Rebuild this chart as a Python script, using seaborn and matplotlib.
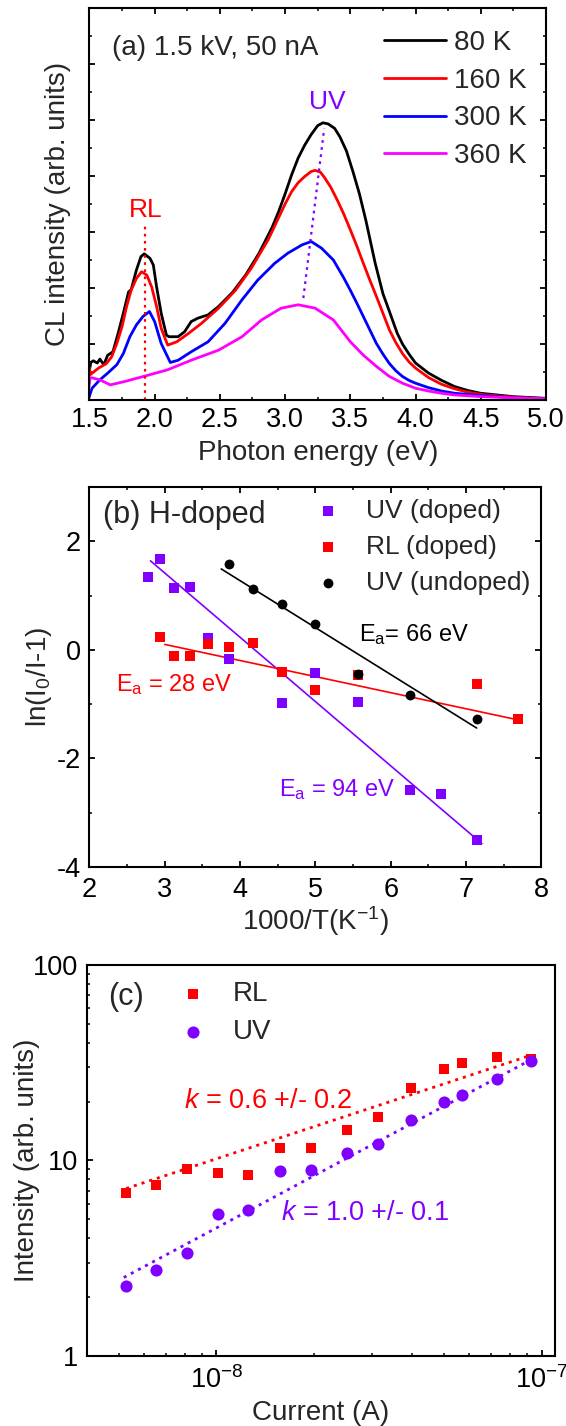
import numpy as np
import pandas as pd
import matplotlib
matplotlib.use("Agg")
import matplotlib.pyplot as plt
import seaborn as sns
from matplotlib.ticker import (MultipleLocator, LogLocator, FixedLocator,
                               NullFormatter, FixedFormatter, LogFormatterSciNotation)

# ---------------- data: panel (a) CL spectra ----------------
e80 = [1.50, 1.51, 1.53, 1.56, 1.58, 1.61, 1.64, 1.68, 1.72, 1.76, 1.80, 1.82, 1.86, 1.895, 1.92,
       1.964, 1.99, 2.015, 2.05, 2.09, 2.11, 2.18, 2.23, 2.28, 2.33, 2.41, 2.49, 2.6, 2.7, 2.8, 2.9,
       2.95, 3.0, 3.05, 3.1, 3.15, 3.2, 3.25, 3.29, 3.33, 3.38, 3.42, 3.47, 3.52, 3.57, 3.62, 3.69,
       3.75, 3.8, 3.86, 3.9, 3.95, 4.0, 4.1, 4.2, 4.3, 4.4, 4.5, 4.75, 5.0]
i80 = [0.52, 0.67, 0.70, 0.66, 0.73, 0.63, 0.80, 0.86, 1.19, 1.55, 1.93, 1.97, 2.32, 2.56, 2.61,
       2.53, 2.41, 2.02, 1.55, 1.16, 1.13, 1.13, 1.22, 1.40, 1.46, 1.52, 1.67, 1.93, 2.24, 2.62, 3.08,
       3.36, 3.68, 4.02, 4.32, 4.55, 4.74, 4.90, 4.95, 4.93, 4.85, 4.70, 4.45, 4.08, 3.68, 3.20, 2.45,
       1.90, 1.58, 1.19, 1.00, 0.82, 0.66, 0.48, 0.35, 0.24, 0.17, 0.12, 0.06, 0.03]
e160 = [1.50, 1.505, 1.57, 1.63, 1.67, 1.71, 1.75, 1.785, 1.82, 1.86, 1.90, 1.94, 1.977, 2.015,
        2.05, 2.10, 2.17, 2.26, 2.36, 2.49, 2.62, 2.74, 2.87, 3.0, 3.05, 3.1, 3.15, 3.2, 3.23,
        3.27, 3.3, 3.35, 3.4, 3.45, 3.5, 3.55, 3.6, 3.65, 3.7, 3.75, 3.8, 3.85, 3.9, 3.95, 4.0,
        4.1, 4.2, 4.3, 4.4, 4.5, 4.75, 5.0]
i160 = [0.58, 0.45, 0.57, 0.65, 0.77, 1.01, 1.31, 1.67, 1.96, 2.17, 2.29, 2.23, 2.02, 1.67,
        1.28, 0.98, 1.04, 1.19, 1.37, 1.64, 1.96, 2.35, 2.86, 3.50, 3.72, 3.88, 3.99, 4.08, 4.10,
        4.07, 3.98, 3.80, 3.57, 3.32, 3.04, 2.75, 2.44, 2.14, 1.85, 1.55, 1.25, 1.02, 0.83, 0.68, 0.57,
        0.40, 0.28, 0.20, 0.14, 0.10, 0.05, 0.02]
e300 = [1.495, 1.52, 1.58, 1.64, 1.71, 1.76, 1.81, 1.86, 1.91, 1.96, 2.0, 2.05, 2.12, 2.18, 2.28,
        2.41, 2.54, 2.67, 2.79, 2.92, 3.02, 3.13, 3.20, 3.28, 3.37, 3.45, 3.5, 3.55, 3.6, 3.65,
        3.7, 3.75, 3.8, 3.85, 3.9, 3.95, 4.0, 4.1, 4.2, 4.3, 4.5, 4.75, 5.0]
i300 = [0.03, 0.21, 0.36, 0.48, 0.63, 0.83, 1.13, 1.34, 1.49, 1.58, 1.40, 1.01, 0.67, 0.71, 0.86,
        1.04, 1.37, 1.79, 2.14, 2.44, 2.62, 2.77, 2.83, 2.71, 2.50, 2.18, 1.96, 1.73, 1.49, 1.25,
        1.01, 0.82, 0.65, 0.52, 0.42, 0.35, 0.30, 0.22, 0.16, 0.12, 0.08, 0.04, 0.02]
e360 = [1.495, 1.505, 1.53, 1.58, 1.66, 1.77, 1.93, 2.10, 2.28, 2.49, 2.67, 2.82, 2.97, 3.10,
        3.23, 3.37, 3.5, 3.6, 3.7, 3.8, 3.9, 4.0, 4.1, 4.2, 4.3, 4.5, 4.75, 5.0]
i360 = [0.20, 0.40, 0.39, 0.36, 0.27, 0.33, 0.43, 0.54, 0.71, 0.89, 1.13, 1.43, 1.64, 1.70,
        1.64, 1.43, 1.04, 0.80, 0.60, 0.42, 0.30, 0.21, 0.16, 0.12, 0.09, 0.06, 0.04, 0.02]
rl_marker_x = [1.926, 1.926]
rl_marker_y = [0.0, 3.12]
uv_marker_x = [3.14, 3.30]
uv_marker_y = [1.82, 4.85]

# ---------------- data: panel (b) Arrhenius ----------------
uvd_x = [2.78, 2.94, 3.125, 3.33, 3.57, 3.85, 4.55, 5.0, 5.56, 6.25, 6.67, 7.14]
uvd_y = [1.34, 1.67, 1.14, 1.15, 0.21, -0.17, -0.98, -0.43, -0.96, -2.58, -2.65, -3.51]
rld_x = [2.94, 3.125, 3.33, 3.57, 3.85, 4.17, 4.55, 5.0, 5.56, 7.14, 7.69]
rld_y = [0.23, -0.12, -0.12, 0.11, 0.06, 0.12, -0.40, -0.74, -0.47, -0.63, -1.28]
uvu_x = [3.85, 4.17, 4.55, 5.0, 5.56, 6.25, 7.14]
uvu_y = [1.58, 1.12, 0.85, 0.48, -0.44, -0.84, -1.28]
fit_uvd_x = [2.81, 7.21]
fit_uvd_y = [1.64, -3.57]
fit_rld_x = [3.0, 7.69]
fit_rld_y = [0.10, -1.29]
fit_uvu_x = [3.75, 7.14]
fit_uvu_y = [1.49, -1.44]

# ---------------- data: panel (c) current dependence ----------------
current = [5.28e-9, 6.50e-9, 8.13e-9, 1.01e-8, 1.25e-8, 1.57e-8, 1.95e-8, 2.52e-8, 3.13e-8,
           3.97e-8, 5.01e-8, 5.69e-8, 7.28e-8, 9.26e-8]
rl_int = [6.81, 7.51, 9.01, 8.66, 8.46, 11.6, 11.55, 14.4, 16.7, 23.5, 29.3, 31.5, 33.8, 32.9]
uv_int = [2.29, 2.76, 3.36, 5.35, 5.61, 8.83, 8.90, 10.9, 12.1, 16.2, 19.8, 21.7, 26.1, 32.2]
fit_rl_x = [5.28e-9, 9.26e-8]
fit_rl_y = [7.19, 34.5]
fit_uv_x = [5.19e-9, 9.26e-8]
fit_uv_y = [2.52, 32.7]

VIOLET = "#8000ff"
RED = "#ff0000"
BLUE = "#0000ff"
MAGENTA = "#ff00ff"

sns.set_style("ticks")
plt.rcParams.update({
    "font.family": ["Liberation Sans", "DejaVu Sans"],
    "mathtext.fontset": "custom",
    "mathtext.rm": "Liberation Sans",
    "mathtext.it": "Liberation Sans:italic",
    "mathtext.bf": "Liberation Sans:bold",
    "mathtext.default": "regular",
    "axes.unicode_minus": False,
    "axes.linewidth": 1.5,
    "axes.edgecolor": "black",
    "xtick.color": "black",
    "ytick.color": "black",
    "xtick.direction": "in",
    "ytick.direction": "in",
    "xtick.major.width": 1.3,
    "ytick.major.width": 1.3,
    "xtick.minor.width": 1.1,
    "ytick.minor.width": 1.1,
    "xtick.major.size": 4.5,
    "ytick.major.size": 4.5,
    "xtick.minor.size": 2.5,
    "ytick.minor.size": 2.5,
})

fig = plt.figure(figsize=(5.66, 14.26), dpi=100)
axa = fig.add_axes([0.158, 0.7195, 0.8066, 0.2749])
axb = fig.add_axes([0.158, 0.392, 0.7986, 0.2665])
axc = fig.add_axes([0.1537, 0.0491, 0.8269, 0.2742])

TICK_FS = 19.5
LAB_FS = 20

# ---------------- panel (a) ----------------
for e, i, c, lab in [(e80, i80, "black", "80 K"), (e160, i160, RED, "160 K"),
                     (e300, i300, BLUE, "300 K"), (e360, i360, MAGENTA, "360 K")]:
    sns.lineplot(x=e, y=i, color=c, lw=2.0, label=lab, ax=axa, sort=False, estimator=None)
axa.plot(rl_marker_x, rl_marker_y, color=RED, lw=1.6, ls=(0, (1.2, 2.0)))
axa.plot(uv_marker_x, uv_marker_y, color=VIOLET, lw=1.6, ls=(0, (1.2, 2.0)))
axa.text(1.93, 3.40, "RL", color=RED, fontsize=19, ha="center", va="center")
axa.text(3.32, 5.32, "UV", color=VIOLET, fontsize=19, ha="center", va="center")
axa.text(1.67, 6.29, "(a) 1.5 kV, 50 nA", fontsize=20, ha="left", va="center")
axa.set_xlim(1.5, 5.0)
axa.set_ylim(0, 7)
axa.xaxis.set_major_locator(MultipleLocator(0.5))
axa.xaxis.set_minor_locator(MultipleLocator(0.25))
axa.yaxis.set_major_locator(FixedLocator([1, 2, 3, 4, 5, 6]))
axa.yaxis.set_minor_locator(MultipleLocator(0.5))
axa.set_xticks(axa.get_xticks())
axa.set_xticklabels([f"{v:.1f}" for v in axa.get_xticks()])
axa.yaxis.set_major_formatter(NullFormatter())
axa.tick_params(which="both", top=True, right=True)
axa.tick_params(axis="x", labelsize=TICK_FS, pad=5)
axa.set_xlim(1.5, 5.0)
axa.set_xlabel("Photon energy (eV)", fontsize=LAB_FS)
axa.set_ylabel("CL intensity (arb. units)", fontsize=LAB_FS)
axa.yaxis.set_label_coords(-0.0405, 0.5)
axa.xaxis.set_label_coords(0.5, -0.103)
axa.legend(loc="upper left", bbox_to_anchor=(0.645, 0.944), frameon=False, fontsize=20,
           handlelength=2.23, handletextpad=0.3, labelspacing=0.42, borderpad=0, borderaxespad=0)

# ---------------- panel (b) ----------------
sns.scatterplot(x=uvd_x, y=uvd_y, marker="s", s=44, color=VIOLET, linewidth=0, ax=axb,
                label="UV (doped)", zorder=3)
sns.scatterplot(x=rld_x, y=rld_y, marker="s", s=46, color=RED, linewidth=0, ax=axb,
                label="RL (doped)", zorder=3)
sns.scatterplot(x=uvu_x, y=uvu_y, marker="o", s=50, color="black", linewidth=0, ax=axb,
                label="UV (undoped)", zorder=4)
axb.plot(fit_uvd_x, fit_uvd_y, color=VIOLET, lw=1.2, zorder=2)
axb.plot(fit_rld_x, fit_rld_y, color=RED, lw=1.2, zorder=2)
axb.plot(fit_uvu_x, fit_uvu_y, color="black", lw=1.2, zorder=2)
axb.text(2.18, 2.49, "(b) H-doped", fontsize=22, ha="left", va="center")
axb.text(5.58, 0.28, "E$_a$= 66 eV", fontsize=17, ha="left", va="center", color="black")
axb.text(2.35, -0.645, "E$_a$ = 28 eV", fontsize=17, ha="left", va="center", color=RED)
axb.text(4.52, -2.58, "E$_a$ = 94 eV", fontsize=17, ha="left", va="center", color=VIOLET)
axb.set_xlim(2, 8)
axb.set_ylim(-4, 3)
axb.xaxis.set_major_locator(MultipleLocator(1))
axb.xaxis.set_minor_locator(MultipleLocator(0.5))
axb.yaxis.set_major_locator(FixedLocator([-4, -2, 0, 2]))
axb.yaxis.set_minor_locator(FixedLocator([-3, -1, 1, 3]))
axb.tick_params(which="both", top=True, right=True)
axb.tick_params(axis="x", labelsize=TICK_FS, pad=7.5)
axb.tick_params(axis="y", labelsize=TICK_FS, pad=6)
axb.set_xlabel("1000/T(K$^{-1}$)", fontsize=LAB_FS)
axb.set_ylabel("ln(I$_0$/I-1)", fontsize=LAB_FS)
axb.yaxis.set_label_coords(-0.0785, 0.5)
axb.xaxis.set_label_coords(0.5, -0.097)
axb.legend(loc="upper left", bbox_to_anchor=(0.498, 0.968), frameon=False, fontsize=19,
           handlelength=1.0, handletextpad=0.94, labelspacing=0.45, borderpad=0, borderaxespad=0)

# ---------------- panel (c) ----------------
sns.scatterplot(x=current, y=rl_int, marker="s", s=62, color=RED, linewidth=0, ax=axc,
                label="RL", zorder=3)
sns.scatterplot(x=current, y=uv_int, marker="o", s=76, color=VIOLET, linewidth=0, ax=axc,
                label="UV", zorder=3)
axc.plot(fit_rl_x, fit_rl_y, color=RED, lw=2.0, ls=(0, (1.1, 1.8)), zorder=2)
axc.plot(fit_uv_x, fit_uv_y, color=VIOLET, lw=2.0, ls=(0, (1.1, 1.8)), zorder=2)
axc.set_xscale("log")
axc.set_yscale("log")
axc.set_xlim(4.0e-9, 1.10e-7)
axc.set_ylim(1, 100)
axc.xaxis.set_major_locator(LogLocator(base=10, numticks=10))
axc.xaxis.set_minor_locator(LogLocator(base=10, subs=np.arange(2, 10), numticks=20))
axc.xaxis.set_major_formatter(LogFormatterSciNotation())
axc.xaxis.set_minor_formatter(NullFormatter())
axc.yaxis.set_major_locator(FixedLocator([1, 10, 100]))
axc.yaxis.set_major_formatter(FixedFormatter(["1", "10", "100"]))
axc.yaxis.set_minor_locator(LogLocator(base=10, subs=np.arange(2, 10), numticks=20))
axc.yaxis.set_minor_formatter(NullFormatter())
axc.tick_params(which="both", top=False, right=False)
axc.tick_params(axis="x", labelsize=TICK_FS, pad=7)
axc.tick_params(axis="y", labelsize=TICK_FS, pad=6.5)
axc.text(0.045, 0.918, "(c)", transform=axc.transAxes, fontsize=22, ha="left", va="center")
axc.text(7.96e-9, 20.2, "$\\mathit{k}$ = 0.6 +/- 0.2", fontsize=19.5, color=RED, ha="left", va="center")
axc.text(1.575e-8, 5.39, "$\\mathit{k}$ = 1.0 +/- 0.1", fontsize=19.5, color=VIOLET, ha="left", va="center")
axc.set_xlabel("Current (A)", fontsize=LAB_FS)
axc.set_ylabel("Intensity (arb. units)", fontsize=LAB_FS)
axc.yaxis.set_label_coords(-0.100, 0.5)
axc.xaxis.set_label_coords(0.5, -0.112)
axc.legend(loc="upper left", bbox_to_anchor=(0.197, 0.958), frameon=False, fontsize=20,
           handlelength=1.0, handletextpad=0.94, labelspacing=0.42, borderpad=0, borderaxespad=0)

fig.savefig("out.png", dpi=100)
